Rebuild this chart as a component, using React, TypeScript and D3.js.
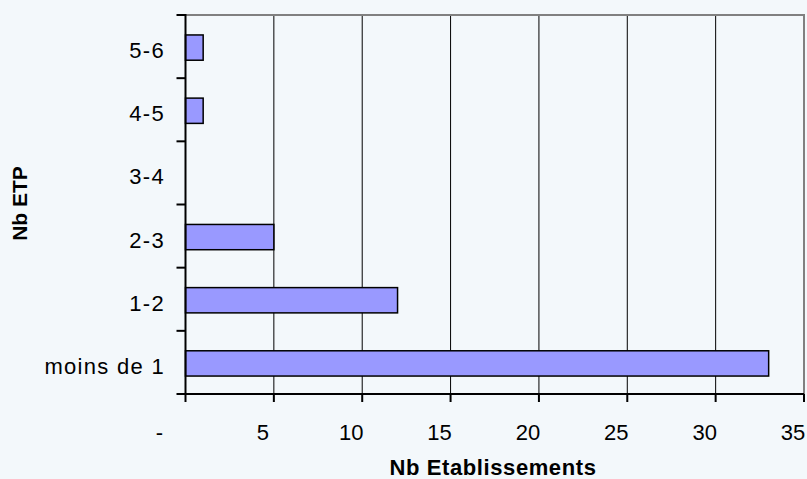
import React from "react";
import * as d3 from "d3";

const categories = ["moins de 1", "1-2", "2-3", "3-4", "4-5", "5-6"];
const values = [33, 12, 5, 0, 1, 1];
const xTicks = [0, 5, 10, 15, 20, 25, 30, 35];
const xTickLabels = ["-", "5", "10", "15", "20", "25", "30", "35"];

export default function App() {
  const W = 807, H = 479;
  const left = 185.5, right = 804, top = 15, bottom = 394;
  const x = d3.scaleLinear().domain([0, 35]).range([left, right]);
  const y = d3.scaleBand<string>().domain([...categories].reverse()).range([top, bottom]).paddingInner(0.6).paddingOuter(0.3);
  const band = (bottom - top) / categories.length;
  const font = "'Liberation Sans', Arial, sans-serif";
  return (
    <svg width={W} height={H} style={{ position: "absolute", left: 0, top: 0, background: "#f3f8fb" }}>
      <rect x={0} y={0} width={W} height={H} fill="#f3f8fb" />
      {xTicks.slice(1, -1).map((t) => (
        <line key={t} x1={x(t)} x2={x(t)} y1={top} y2={bottom} stroke="#000" strokeWidth={1} />
      ))}
      <line x1={left} x2={right + 1} y1={top} y2={top} stroke="#808080" strokeWidth={2} />
      <line x1={right} x2={right} y1={top} y2={bottom} stroke="#808080" strokeWidth={2} />
      {categories.map((c, i) =>
        values[i] > 0 ? (
          <rect key={c} x={x(0)} y={y(c)! + 1} width={x(values[i]) - x(0)} height={y.bandwidth()}
            fill="#9999ff" stroke="#000" strokeWidth={1.5} />
        ) : null
      )}
      <line x1={left} x2={left} y1={top - 1} y2={bottom} stroke="#000" strokeWidth={2} />
      <line x1={left} x2={right} y1={bottom} y2={bottom} stroke="#000" strokeWidth={2} />
      {d3.range(categories.length + 1).map((i) => (
        <line key={i} x1={left - 9} x2={left} y1={top + i * band} y2={top + i * band} stroke="#000" strokeWidth={2} />
      ))}
      {xTicks.map((t) => (
        <line key={t} x1={x(t)} x2={x(t)} y1={bottom} y2={bottom + 8} stroke="#000" strokeWidth={2} />
      ))}
      {categories.map((c) => (
        <text key={c} x={165} y={y(c)! + 1 + y.bandwidth() / 2 + 10.5} textAnchor="end" fontFamily={font} fontSize={22} letterSpacing={1.3} fill="#000">{c}</text>
      ))}
      {xTicks.map((t, i) => (
        <text key={t} x={x(t) + (i === 0 ? -26 : -11)} y={439.5} textAnchor="middle" fontFamily={font} fontSize={22} fill="#000">{xTickLabels[i]}</text>
      ))}
      <text x={493} y={474.5} textAnchor="middle" fontFamily={font} fontSize={22} fontWeight="bold" letterSpacing={0.6} fill="#000">Nb Etablissements</text>
      <text transform={`translate(27,203.5) rotate(-90)`} textAnchor="middle" fontFamily={font} fontSize={21} fontWeight="bold" fill="#000">Nb ETP</text>
    </svg>
  );
}
